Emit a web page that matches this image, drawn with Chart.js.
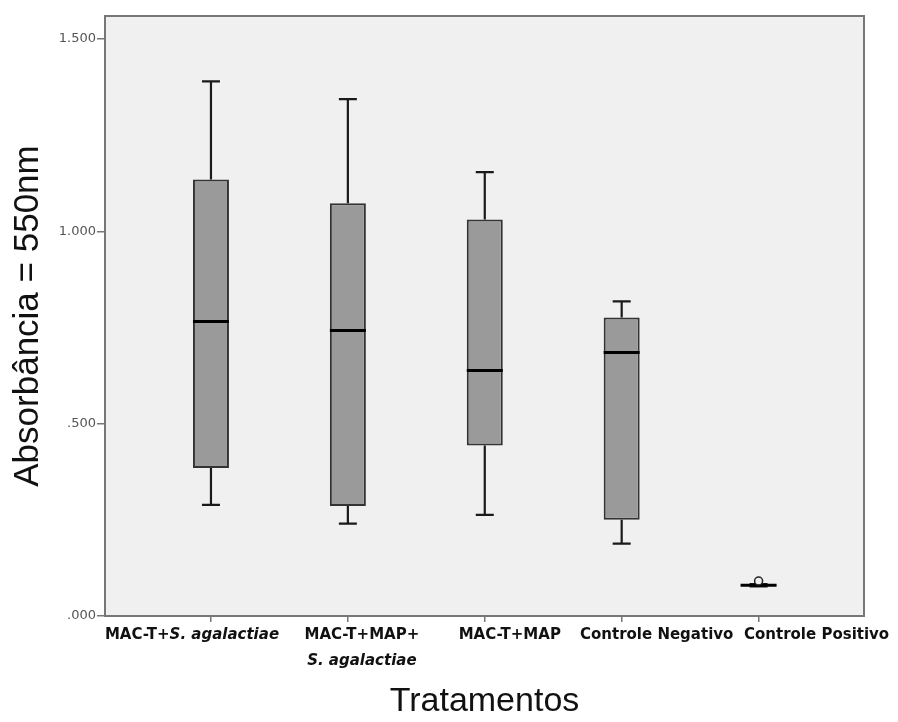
<!DOCTYPE html>
<html>
<head>
<meta charset="utf-8">
<script src="https://cdn.jsdelivr.net/npm/chart.js@4.4.1/dist/chart.umd.min.js"></script>
<style>
  html, body { margin: 0; padding: 0; background: #fff; }
  #wrap { width: 898px; height: 722px; }
</style>
</head>
<body>
<div id="wrap"><canvas id="chart" width="898" height="722"></canvas></div>
<script>
// Treatments (one entry per line of the axis label)
const CATEGORIES = [
  ['MAC-T+S. agalactiae'],
  ['MAC-T+MAP+', 'S. agalactiae'],
  ['MAC-T+MAP'],
  ['Controle Negativo'],
  ['Controle Positivo'],
];

// Box plot summary
const WHISKER_LOW  = [0.289, 0.240, 0.263, 0.188, 0.077];
const Q1           = [0.385, 0.286, 0.443, 0.250, 0.079];
const MEDIAN       = [0.766, 0.742, 0.638, 0.685, 0.080];
const Q3           = [1.135, 1.073, 1.031, 0.776, 0.081];
const WHISKER_HIGH = [1.390, 1.344, 1.154, 0.818, 0.083];
const OUTLIERS     = [[], [], [], [], [0.091]];

const Y_TICKS = [0, 0.5, 1.0, 1.5];

// label placement tweaks (px from the tick), the source labels are not centred
const LABEL_SHIFT = [-19, 14, 25, 35, 58];
const ITALIC_PART = 'S. agalactiae';

const fmtTick = v => v.toFixed(3).replace(/^0/, '');

const boxPlugin = {
  id: 'boxParts',
  beforeDraw(chart) {
    const { ctx, chartArea: a } = chart;
    ctx.save();
    ctx.fillStyle = '#f0f0f0';
    ctx.fillRect(a.left, a.top, a.right - a.left, a.bottom - a.top);
    ctx.restore();
  },
  afterDatasetsDraw(chart) {
    const { ctx, scales: { y } } = chart;
    const meta = chart.getDatasetMeta(0);
    ctx.save();
    meta.data.forEach((bar, i) => {
      const cx = bar.x;
      const half = bar.width / 2;
      const cap = half / 2;

      // whiskers
      const yHi = y.getPixelForValue(WHISKER_HIGH[i]);
      const yLo = y.getPixelForValue(WHISKER_LOW[i]);
      ctx.strokeStyle = '#1a1a1a';
      ctx.lineWidth = 2.2;
      ctx.beginPath();
      ctx.moveTo(cx, y.getPixelForValue(Q3[i]));
      ctx.lineTo(cx, yHi);
      ctx.moveTo(cx, y.getPixelForValue(Q1[i]));
      ctx.lineTo(cx, yLo);
      ctx.moveTo(cx - cap, yHi); ctx.lineTo(cx + cap, yHi);
      ctx.moveTo(cx - cap, yLo); ctx.lineTo(cx + cap, yLo);
      ctx.stroke();

      // median
      ctx.strokeStyle = '#000';
      ctx.lineWidth = 3;
      const ym = y.getPixelForValue(MEDIAN[i]);
      ctx.beginPath();
      ctx.moveTo(cx - half, ym);
      ctx.lineTo(cx + half, ym);
      ctx.stroke();

      // outliers
      OUTLIERS[i].forEach(v => {
        ctx.beginPath();
        ctx.arc(cx, y.getPixelForValue(v), 4, 0, Math.PI * 2);
        ctx.fillStyle = '#f0f0f0';
        ctx.fill();
        ctx.lineWidth = 1.5;
        ctx.strokeStyle = '#222';
        ctx.stroke();
      });
    });
    ctx.restore();
  },
  afterDraw(chart) {
    const { ctx, chartArea: a, scales: { x } } = chart;
    ctx.save();
    // frame
    ctx.strokeStyle = '#777';
    ctx.lineWidth = 2;
    ctx.strokeRect(a.left, a.top, a.right - a.left, a.bottom - a.top);

    // category labels, species name in italics
    ctx.fillStyle = '#111';
    ctx.textBaseline = 'middle';
    const plain = 'bold 15px "DejaVu Sans"';
    const ital = 'italic bold 15px "DejaVu Sans"';
    CATEGORIES.forEach((lines, i) => {
      const cx = x.getPixelForValue(i) + LABEL_SHIFT[i];
      lines.forEach((line, li) => {
        const k = line.indexOf(ITALIC_PART);
        const parts = k < 0 ? [[line, plain]]
          : [[line.slice(0, k), plain], [ITALIC_PART, ital], [line.slice(k + ITALIC_PART.length), plain]];
        let w = 0;
        parts.forEach(p => { ctx.font = p[1]; w += ctx.measureText(p[0]).width; });
        let px = cx - w / 2;
        const py = a.bottom + 19 + li * 26;
        parts.forEach(p => {
          ctx.font = p[1];
          ctx.fillText(p[0], px, py);
          px += ctx.measureText(p[0]).width;
        });
      });
    });
    ctx.restore();
  }
};

new Chart(document.getElementById('chart'), {
  type: 'bar',
  data: {
    datasets: [{
      data: CATEGORIES.map((c, i) => ({ x: i, y: [Q1[i], Q3[i]] })),
      backgroundColor: '#9a9a9a',
      borderColor: '#333',
      borderWidth: 2,
      borderSkipped: false,
      barPercentage: 0.263,
      categoryPercentage: 1,
    }]
  },
  options: {
    responsive: false,
    animation: false,
    devicePixelRatio: 1,
    layout: { padding: { top: 16, right: 34, left: 0, bottom: 0 } },
    plugins: { legend: { display: false }, tooltip: { enabled: false } },
    scales: {
      x: {
        type: 'linear',
        offset: false,
        min: -0.774,
        max: 4.77,
        afterBuildTicks: s => { s.ticks = CATEGORIES.map((c, i) => ({ value: i })); },
        afterFit: s => { s.height = 106; },
        ticks: { display: false },
        grid: { offset: false, drawOnChartArea: false, drawTicks: true, tickLength: 6, tickColor: '#777', lineWidth: 1.5 },
        border: { display: false },
        title: {
          display: true,
          text: 'Tratamentos',
          color: '#111',
          font: { family: '"Liberation Sans", Arial, sans-serif', size: 34 },
          padding: { top: 0, bottom: 0 },
        }
      },
      y: {
        min: 0,
        max: 1.56,
        afterBuildTicks: s => { s.ticks = Y_TICKS.map(v => ({ value: v })); },
        afterFit: s => { s.width = 105; },
        ticks: {
          callback: v => fmtTick(v),
          color: '#555',
          padding: 1,
          font: { family: '"DejaVu Sans", sans-serif', size: 13 },
        },
        grid: { drawOnChartArea: false, drawTicks: true, tickLength: 8, tickColor: '#777', lineWidth: 1.5 },
        border: { display: false },
        title: {
          display: true,
          text: 'Absorbância = 550nm',
          color: '#111',
          font: { family: '"Liberation Sans", Arial, sans-serif', size: 35 },
          padding: { top: 7, bottom: 0 },
        }
      }
    }
  },
  plugins: [boxPlugin]
});
</script>
</body>
</html>
